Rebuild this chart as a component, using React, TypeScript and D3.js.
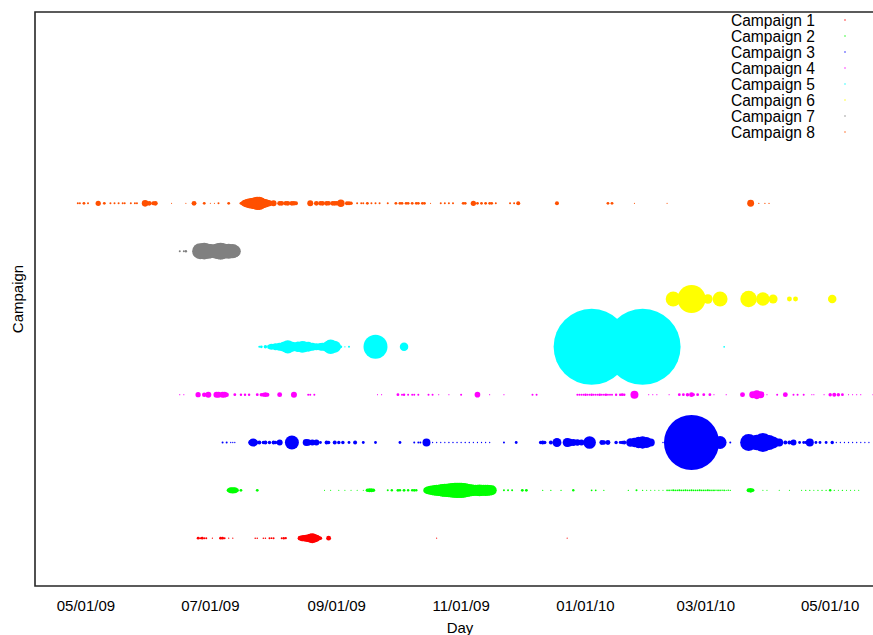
import React from "react";
import * as d3 from "d3";

type Pt = [string, number];

const campaignNames = [
  "Campaign 1",
  "Campaign 2",
  "Campaign 3",
  "Campaign 4",
  "Campaign 5",
  "Campaign 6",
  "Campaign 7",
  "Campaign 8",
];

const campaignColors = [
  "#ff0000",
  "#00ff00",
  "#0000ff",
  "#ff00ff",
  "#00ffff",
  "#ffff00",
  "#808080",
  "#ff5000",
];

const tickDates = [
  "2009-05-01",
  "2009-07-01",
  "2009-09-01",
  "2009-11-01",
  "2010-01-01",
  "2010-03-01",
  "2010-05-01",
];

// daily activity per campaign: [day, volume]
const campaign1: Pt[] = [
  ["2009-06-25", 2], ["2009-06-26", 1], ["2009-06-27", 2], ["2009-06-28", 1], ["2009-06-29", 1],
  ["2009-07-02", 0.4],
  ["2009-07-06", 2], ["2009-07-07", 2], ["2009-07-08", 1],
  ["2009-07-10", 0.4], ["2009-07-12", 0.4],
  ["2009-07-23", 0.6], ["2009-07-24", 0.6], ["2009-07-27", 0.6], ["2009-07-28", 0.6],
  ["2009-07-30", 1], ["2009-07-31", 0.8], ["2009-08-01", 1],
  ["2009-08-05", 1], ["2009-08-06", 1.5], ["2009-08-07", 1.2],
  ["2009-08-14", 6], ["2009-08-15", 9], ["2009-08-16", 10], ["2009-08-17", 12], ["2009-08-18", 14],
  ["2009-08-19", 20], ["2009-08-20", 25], ["2009-08-21", 18], ["2009-08-22", 12], ["2009-08-23", 6],
  ["2009-08-24", 3],
  ["2009-08-28", 6],
  ["2009-10-20", 0.3], ["2009-12-23", 0.3],
];

const campaign2: Pt[] = [
  ["2009-07-10", 4], ["2009-07-11", 9], ["2009-07-12", 10], ["2009-07-13", 9], ["2009-07-14", 4],
  ["2009-07-16", 2], ["2009-07-24", 2],
  ["2009-08-26", 0.3], ["2009-08-29", 0.3], ["2009-09-02", 0.3], ["2009-09-05", 0.3],
  ["2009-09-08", 0.3], ["2009-09-11", 0.3], ["2009-09-14", 0.3],
  ["2009-09-16", 3], ["2009-09-17", 4], ["2009-09-18", 4], ["2009-09-19", 3],
  ["2009-09-26", 1], ["2009-09-28", 1.5], ["2009-10-01", 2], ["2009-10-02", 1.5], ["2009-10-04", 2],
  ["2009-10-06", 1.5], ["2009-10-08", 1.5], ["2009-10-09", 2], ["2009-10-10", 1.5],
  ["2009-10-15", 10], ["2009-10-16", 16], ["2009-10-17", 20], ["2009-10-18", 24], ["2009-10-19", 28],
  ["2009-10-20", 30], ["2009-10-21", 32], ["2009-10-22", 36], ["2009-10-23", 40], ["2009-10-24", 42],
  ["2009-10-25", 45], ["2009-10-26", 48], ["2009-10-27", 50], ["2009-10-28", 54], ["2009-10-29", 56],
  ["2009-10-30", 58], ["2009-10-31", 56], ["2009-11-01", 58], ["2009-11-02", 54], ["2009-11-03", 50],
  ["2009-11-04", 42], ["2009-11-05", 38], ["2009-11-06", 36], ["2009-11-07", 32], ["2009-11-08", 30],
  ["2009-11-09", 32], ["2009-11-10", 34], ["2009-11-11", 32], ["2009-11-12", 30], ["2009-11-13", 32],
  ["2009-11-14", 30], ["2009-11-15", 28], ["2009-11-16", 25],
  ["2009-11-22", 1], ["2009-11-24", 1], ["2009-11-26", 1],
  ["2009-12-01", 2], ["2009-12-03", 2],
  ["2009-12-11", 0.5], ["2009-12-15", 0.5], ["2009-12-20", 0.5], ["2009-12-26", 1.5],
  ["2010-01-04", 0.8], ["2010-01-06", 0.8], ["2010-01-10", 0.5], ["2010-01-22", 0.5],
  ["2010-01-26", 1], ["2010-01-29", 0.5],
  ["2010-01-31", 0.3], ["2010-02-02", 0.3], ["2010-02-04", 0.3], ["2010-02-06", 0.3], ["2010-02-08", 0.3],
  ["2010-02-10", 0.7], ["2010-02-11", 0.8], ["2010-02-12", 0.6], ["2010-02-13", 1], ["2010-02-14", 0.8],
  ["2010-02-15", 0.7], ["2010-02-16", 1], ["2010-02-17", 0.9], ["2010-02-18", 0.8], ["2010-02-19", 1],
  ["2010-02-20", 0.7], ["2010-02-21", 0.9], ["2010-02-22", 1], ["2010-02-23", 0.8], ["2010-02-24", 0.9],
  ["2010-02-25", 0.7], ["2010-02-26", 1], ["2010-02-27", 0.8], ["2010-02-28", 0.9], ["2010-03-01", 0.7],
  ["2010-03-02", 1], ["2010-03-03", 0.8], ["2010-03-04", 0.7], ["2010-03-05", 0.9], ["2010-03-06", 0.6],
  ["2010-03-07", 0.8], ["2010-03-08", 0.7], ["2010-03-09", 0.6], ["2010-03-10", 0.7], ["2010-03-11", 0.5],
  ["2010-03-12", 0.6], ["2010-03-13", 0.5],
  ["2010-03-22", 4], ["2010-03-23", 6], ["2010-03-24", 3],
  ["2010-03-29", 0.3], ["2010-03-31", 0.3], ["2010-04-06", 0.3], ["2010-04-11", 0.3],
  ["2010-04-17", 0.3], ["2010-04-19", 0.5], ["2010-04-21", 0.5], ["2010-04-23", 0.3], ["2010-04-25", 0.5],
  ["2010-04-27", 0.5], ["2010-04-29", 0.5], ["2010-05-01", 1.5], ["2010-05-03", 0.5], ["2010-05-05", 0.3],
  ["2010-05-07", 0.5], ["2010-05-09", 0.3], ["2010-05-11", 0.3], ["2010-05-13", 0.3], ["2010-05-15", 0.3],
];

const campaign3: Pt[] = [
  ["2009-07-07", 1], ["2009-07-09", 1],
  ["2009-07-11", 0.4], ["2009-07-12", 0.4], ["2009-07-13", 0.4],
  ["2009-07-20", 0.5],
  ["2009-07-21", 8], ["2009-07-22", 16], ["2009-07-23", 8],
  ["2009-07-25", 4], ["2009-07-27", 3], ["2009-07-28", 4], ["2009-07-30", 3], ["2009-08-01", 4], ["2009-08-02", 3],
  ["2009-08-04", 9],
  ["2009-08-10", 49],
  ["2009-08-17", 12], ["2009-08-18", 10], ["2009-08-20", 9], ["2009-08-22", 9],
  ["2009-08-24", 2],
  ["2009-08-27", 4], ["2009-08-28", 3], ["2009-08-31", 4], ["2009-09-02", 3], ["2009-09-04", 3],
  ["2009-09-07", 2], ["2009-09-10", 4], ["2009-09-14", 2], ["2009-09-20", 2], ["2009-10-02", 2],
  ["2009-10-09", 1], ["2009-10-11", 1], ["2009-10-12", 1],
  ["2009-10-15", 16],
  ["2009-10-18", 0.4], ["2009-10-20", 0.4], ["2009-10-22", 0.4], ["2009-10-24", 0.4], ["2009-10-26", 0.5],
  ["2009-10-28", 0.5], ["2009-10-30", 0.5], ["2009-11-01", 0.5], ["2009-11-03", 0.5], ["2009-11-05", 0.5],
  ["2009-11-07", 0.4], ["2009-11-09", 0.4], ["2009-11-11", 0.4], ["2009-11-13", 0.4], ["2009-11-15", 0.4],
  ["2009-11-22", 1], ["2009-11-28", 2],
  ["2009-12-10", 3], ["2009-12-11", 4], ["2009-12-12", 3], ["2009-12-15", 4],
  ["2009-12-18", 20],
  ["2009-12-23", 20], ["2009-12-24", 16], ["2009-12-26", 12], ["2009-12-28", 10], ["2009-12-30", 9],
  ["2010-01-03", 40],
  ["2010-01-09", 6], ["2010-01-10", 5], ["2010-01-12", 6],
  ["2010-01-16", 3], ["2010-01-18", 2], ["2010-01-19", 3], ["2010-01-20", 4],
  ["2010-01-23", 18], ["2010-01-25", 22], ["2010-01-27", 32], ["2010-01-29", 38], ["2010-01-31", 30],
  ["2010-02-02", 16],
  ["2010-02-08", 0.5],
  ["2010-02-22", 760],
  ["2010-03-08", 42],
  ["2010-03-13", 1],
  ["2010-03-22", 72], ["2010-03-26", 60], ["2010-03-29", 90], ["2010-04-01", 56], ["2010-04-03", 36],
  ["2010-04-06", 16],
  ["2010-04-09", 4], ["2010-04-11", 4], ["2010-04-13", 9],
  ["2010-04-16", 2], ["2010-04-18", 2], ["2010-04-19", 2],
  ["2010-04-21", 16],
  ["2010-04-24", 2], ["2010-04-26", 2], ["2010-04-29", 2], ["2010-05-02", 3],
  ["2010-05-04", 0.4], ["2010-05-06", 0.4], ["2010-05-08", 0.4], ["2010-05-10", 0.4], ["2010-05-12", 0.4],
  ["2010-05-14", 0.4], ["2010-05-16", 0.4], ["2010-05-18", 0.4], ["2010-05-20", 0.4],
];

const campaign4: Pt[] = [
  ["2009-06-16", 0.3], ["2009-06-18", 0.3],
  ["2009-06-25", 7], ["2009-06-28", 5], ["2009-06-30", 9],
  ["2009-07-04", 9], ["2009-07-05", 9], ["2009-07-07", 9], ["2009-07-08", 8], ["2009-07-09", 5],
  ["2009-07-13", 2],
  ["2009-07-16", 1.5], ["2009-07-18", 1.5], ["2009-07-20", 1.5],
  ["2009-07-24", 2], ["2009-07-26", 3], ["2009-07-27", 4], ["2009-07-28", 6], ["2009-07-29", 4],
  ["2009-08-04", 6],
  ["2009-08-11", 9],
  ["2009-08-18", 1], ["2009-08-19", 1], ["2009-08-21", 1],
  ["2009-09-21", 0.3], ["2009-09-23", 0.3],
  ["2009-10-01", 2], ["2009-10-03", 1], ["2009-10-04", 1.5],
  ["2009-10-06", 1], ["2009-10-08", 1], ["2009-10-09", 1], ["2009-10-11", 1],
  ["2009-10-16", 1], ["2009-10-18", 1],
  ["2009-10-21", 0.3], ["2009-10-26", 0.3],
  ["2009-11-01", 1],
  ["2009-11-09", 8],
  ["2009-11-15", 0.3], ["2009-11-22", 0.3],
  ["2009-12-06", 1], ["2009-12-08", 1],
  ["2009-12-28", 1], ["2009-12-29", 1], ["2009-12-30", 1], ["2009-12-31", 1], ["2010-01-01", 1.5],
  ["2010-01-02", 1], ["2010-01-03", 1], ["2010-01-04", 1.5], ["2010-01-05", 1], ["2010-01-06", 1],
  ["2010-01-07", 1], ["2010-01-08", 1.5], ["2010-01-09", 1], ["2010-01-10", 1], ["2010-01-11", 1.5],
  ["2010-01-12", 1], ["2010-01-13", 1], ["2010-01-14", 1],
  ["2010-01-16", 1.5], ["2010-01-18", 1.5], ["2010-01-19", 2], ["2010-01-20", 1.5],
  ["2010-01-25", 16],
  ["2010-02-01", 0.3], ["2010-02-03", 0.3], ["2010-02-05", 0.3], ["2010-02-11", 0.3],
  ["2010-02-16", 2], ["2010-02-18", 2], ["2010-02-20", 3], ["2010-02-22", 6], ["2010-02-23", 2],
  ["2010-02-25", 2], ["2010-02-28", 2], ["2010-03-03", 2],
  ["2010-03-05", 0.3], ["2010-03-11", 0.3],
  ["2010-03-19", 6],
  ["2010-03-24", 12], ["2010-03-26", 20], ["2010-03-28", 12],
  ["2010-03-31", 0.3],
  ["2010-04-05", 1],
  ["2010-04-09", 6],
  ["2010-04-13", 1], ["2010-04-15", 1], ["2010-04-18", 1],
  ["2010-04-22", 0.3], ["2010-04-23", 0.3], ["2010-04-28", 0.3],
  ["2010-05-01", 3], ["2010-05-03", 4], ["2010-05-05", 3], ["2010-05-07", 2],
  ["2010-05-10", 0.3], ["2010-05-12", 0.3], ["2010-05-14", 0.3], ["2010-05-16", 0.3],
  ["2010-05-22", 0.3],
];

const campaign5: Pt[] = [
  ["2009-07-25", 1], ["2009-07-26", 2], ["2009-07-28", 3], ["2009-07-30", 6], ["2009-07-31", 9],
  ["2009-08-02", 12], ["2009-08-04", 16], ["2009-08-06", 25], ["2009-08-08", 45], ["2009-08-10", 25],
  ["2009-08-11", 20], ["2009-08-13", 28], ["2009-08-15", 34], ["2009-08-16", 30], ["2009-08-18", 25],
  ["2009-08-20", 16], ["2009-08-22", 12], ["2009-08-24", 14], ["2009-08-25", 16], ["2009-08-27", 22],
  ["2009-08-28", 36], ["2009-08-29", 52], ["2009-08-31", 36], ["2009-09-01", 16], ["2009-09-03", 2],
  ["2009-09-05", 0.5], ["2009-09-07", 1],
  ["2009-09-20", 144],
  ["2009-10-04", 18],
  ["2010-01-04", 1444],
  ["2010-01-29", 1444],
  ["2010-03-10", 0.7],
];

const campaign6: Pt[] = [
  ["2010-02-13", 56],
  ["2010-02-22", 196],
  ["2010-03-02", 23],
  ["2010-03-08", 56],
  ["2010-03-22", 69],
  ["2010-03-29", 45],
  ["2010-04-03", 20],
  ["2010-04-11", 6],
  ["2010-04-14", 6],
  ["2010-05-02", 18],
];

const campaign7: Pt[] = [
  ["2009-06-16", 1], ["2009-06-18", 1], ["2009-06-19", 1.5],
  ["2009-06-26", 64], ["2009-06-28", 70], ["2009-06-30", 56], ["2009-07-01", 50], ["2009-07-02", 45],
  ["2009-07-04", 56], ["2009-07-05", 64], ["2009-07-06", 72], ["2009-07-07", 64], ["2009-07-09", 50],
  ["2009-07-10", 56], ["2009-07-12", 50], ["2009-07-13", 36],
];

const campaign8: Pt[] = [
  ["2009-04-27", 1], ["2009-04-28", 1], ["2009-04-30", 2], ["2009-05-02", 1],
  ["2009-05-07", 7],
  ["2009-05-10", 2],
  ["2009-05-13", 1], ["2009-05-15", 1], ["2009-05-17", 1], ["2009-05-19", 1], ["2009-05-20", 1],
  ["2009-05-23", 1], ["2009-05-25", 1], ["2009-05-26", 1],
  ["2009-05-30", 11],
  ["2009-06-01", 6], ["2009-06-03", 4], ["2009-06-04", 6],
  ["2009-06-12", 0.3], ["2009-06-19", 0.3],
  ["2009-06-23", 6],
  ["2009-06-28", 2],
  ["2009-07-01", 0.3], ["2009-07-03", 0.3],
  ["2009-07-05", 1],
  ["2009-07-10", 2],
  ["2009-07-16", 2],
  ["2009-07-17", 6], ["2009-07-18", 12], ["2009-07-19", 18], ["2009-07-20", 24], ["2009-07-21", 28],
  ["2009-07-22", 32], ["2009-07-23", 36], ["2009-07-24", 45], ["2009-07-25", 45], ["2009-07-26", 30],
  ["2009-07-27", 22], ["2009-07-28", 18], ["2009-07-29", 12], ["2009-07-30", 9],
  ["2009-08-01", 9],
  ["2009-08-04", 6], ["2009-08-05", 6], ["2009-08-07", 5], ["2009-08-08", 6], ["2009-08-10", 6],
  ["2009-08-11", 5], ["2009-08-12", 4],
  ["2009-08-19", 9],
  ["2009-08-22", 6], ["2009-08-24", 5], ["2009-08-25", 6], ["2009-08-27", 6], ["2009-08-28", 5],
  ["2009-08-30", 6], ["2009-08-31", 6], ["2009-09-01", 5],
  ["2009-09-03", 14],
  ["2009-09-06", 4], ["2009-09-07", 4], ["2009-09-08", 3],
  ["2009-09-11", 1], ["2009-09-13", 1], ["2009-09-14", 1], ["2009-09-16", 2], ["2009-09-18", 1],
  ["2009-09-20", 1], ["2009-09-22", 1],
  ["2009-09-26", 1],
  ["2009-09-30", 2], ["2009-10-02", 2], ["2009-10-03", 2], ["2009-10-05", 2], ["2009-10-06", 2],
  ["2009-10-08", 2], ["2009-10-10", 2], ["2009-10-11", 2], ["2009-10-13", 2], ["2009-10-14", 2],
  ["2009-10-17", 0.3],
  ["2009-10-22", 1], ["2009-10-24", 1], ["2009-10-26", 1], ["2009-10-28", 1],
  ["2009-11-02", 2], ["2009-11-03", 2],
  ["2009-11-07", 7],
  ["2009-11-09", 2], ["2009-11-11", 2], ["2009-11-13", 2], ["2009-11-15", 2], ["2009-11-16", 2],
  ["2009-11-18", 1],
  ["2009-11-25", 1], ["2009-11-27", 1],
  ["2009-11-29", 4],
  ["2009-12-18", 4],
  ["2010-01-12", 2], ["2010-01-14", 2],
  ["2010-01-25", 0.3],
  ["2010-02-10", 0.3],
  ["2010-03-23", 12],
  ["2010-03-27", 0.5], ["2010-03-30", 0.5], ["2010-04-01", 0.5],
];

const campaigns = [campaign1, campaign2, campaign3, campaign4, campaign5, campaign6, campaign7, campaign8];

const W = 873;
const H = 635;
const left = 35;
const top = 12;
const bottom = 586;

const parse = d3.timeParse("%Y-%m-%d");
const fmt = d3.timeFormat("%m/%d/%y");

const x = d3
  .scaleTime()
  .domain([new Date(2009, 3, 6), new Date(2010, 4, 22)])
  .range([left, W]);
const y = d3.scaleLinear().domain([0, 12]).range([bottom, top]);
const r = d3.scaleSqrt().domain([0, 1444]).range([0, 38]);

const font = "'Liberation Sans', Arial, Helvetica, sans-serif";

export default function App() {
  return (
    <svg
      width={W}
      height={H}
      style={{ position: "absolute", left: 0, top: 0, background: "#fff" }}
      fontFamily={font}
    >
      <rect x={0} y={0} width={W} height={H} fill="#fff" />
      <defs>
        <clipPath id="plot-clip">
          <rect x={left} y={top} width={W - left + 20} height={bottom - top} />
        </clipPath>
      </defs>
      <g clipPath="url(#plot-clip)">
        {campaigns.map((series, i) => (
          <g key={campaignNames[i]} fill={campaignColors[i]}>
            {series.map(([day, v], j) => (
              <circle key={j} cx={x(parse(day) as Date)} cy={y(i + 1)} r={r(v)} />
            ))}
          </g>
        ))}
      </g>
      {/* frame */}
      <path
        d={`M${W + 5},${top}H${left}V${bottom}H${W + 5}`}
        fill="none"
        stroke="#262626"
        strokeWidth={1.6}
      />
      {/* x tick labels */}
      {tickDates.map((t) => {
        const d = parse(t) as Date;
        return (
          <text key={t} x={x(d)} y={611} textAnchor="middle" fontSize={15} fill="#000">
            {fmt(d)}
          </text>
        );
      })}
      <text x={(left + W) / 2 + 6} y={633} textAnchor="middle" fontSize={15} fill="#000">
        Day
      </text>
      <text
        transform={`translate(23,${(top + bottom) / 2}) rotate(-90)`}
        textAnchor="middle"
        fontSize={15}
        fill="#000"
      >
        Campaign
      </text>
      {/* legend */}
      {campaignNames.map((name, i) => (
        <g key={name}>
          <text x={815} y={25.5 + i * 16} textAnchor="end" fontSize={15.6} fill="#000">
            {name}
          </text>
          <circle cx={845} cy={20 + i * 16} r={0.7} fill={campaignColors[i]} />
        </g>
      ))}
    </svg>
  );
}
